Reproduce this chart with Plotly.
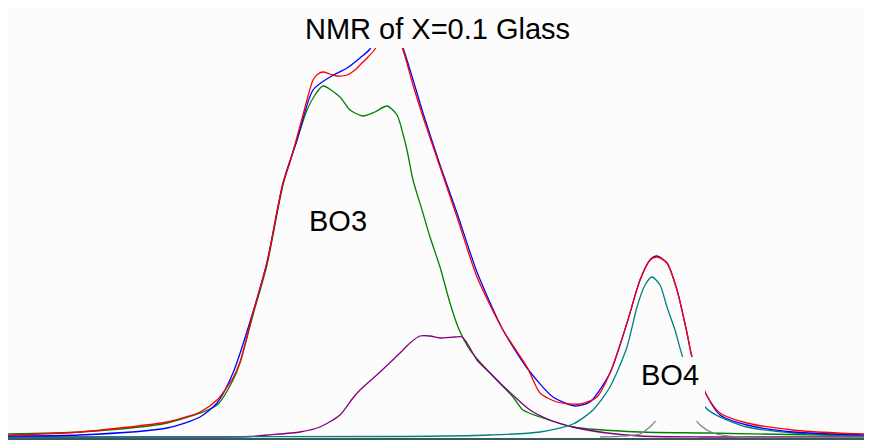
import plotly.graph_objects as go

# Channel positions (arbitrary shift units, left to right) and intensities for each curve
total_fit_x = [6, 40, 80, 120, 167, 200, 217, 233, 240, 253, 267, 283, 290, 297, 307, 313, 318, 323, 330, 337, 347, 355, 360, 368, 375, 388,
               403, 413, 423, 440, 457, 477, 503, 527, 540, 557, 580, 597, 610, 627, 640, 650, 657, 667, 677, 687, 692, 706, 720, 747, 793, 837, 870]
total_fit_y = [2, 3, 5, 9, 15, 25, 37, 59, 75, 124, 174, 254, 275, 300, 337, 357, 363, 365, 363, 361, 362, 367, 372, 380, 388, 422,
               387, 352, 320, 270, 220, 160, 107, 70, 44, 35, 33, 40, 64, 114, 157, 177, 180, 174, 147, 104, 80, 43, 24, 14, 7, 4, 3]

data_x = [6, 80, 167, 200, 217, 233, 253, 267, 283, 297, 313, 330, 347, 360, 370, 388,
          403, 423, 440, 457, 477, 503, 527, 553, 575, 590, 610, 627, 640, 650, 657, 667, 677, 687, 692, 706, 720, 747, 793, 870]
data_y = [1, 2, 9, 20, 34, 64, 125, 175, 254, 297, 347, 360, 369, 379, 388, 422,
          389, 324, 272, 224, 165, 107, 69, 40, 31, 35, 64, 114, 157, 177, 181, 174, 147, 104, 80, 43, 22, 12, 5, 2]

bo3_x = [6, 80, 167, 217, 233, 240, 253, 267, 283, 297, 307, 315, 323, 340, 350, 363, 375, 387, 397, 403, 407, 413, 422, 430,
         440, 450, 458, 470, 490, 513, 523, 540, 573, 640, 707, 870]
bo3_y = [3, 5, 14, 32, 57, 74, 122, 172, 252, 297, 327, 342, 351, 340, 327, 321, 325, 331, 322, 303, 287, 257, 227, 200,
         170, 134, 110, 87, 64, 40, 27, 20, 10, 5, 4, 1]

mixed_x = [6, 250, 267, 300, 320, 340, 353, 360, 380, 400, 410, 420, 430, 440, 455, 462, 467, 477, 490, 500, 515, 530, 550,
           573, 607, 640, 700, 870]
mixed_y = [0, 0.5, 2, 5, 10, 22, 39, 47, 65, 84, 94, 101, 101, 99, 100, 100, 94, 77, 64, 54, 40, 27, 17, 10, 4, 1, 0, 0]

bo4_x = [6, 400, 490, 540, 573, 593, 610, 627, 637, 645, 652, 660, 667, 675, 683, 706, 720, 747, 793, 870]
bo4_y = [0, 0.5, 2, 5, 13, 27, 50, 90, 130, 152, 160, 152, 130, 107, 79, 29, 20, 10, 4, 1]

minor_x = [600, 640, 652, 665, 676, 690, 700, 713, 740, 870]
minor_y = [0, 3, 12, 27, 32, 25, 12, 4, 0, 0]

title_text = "NMR of X=0.1 Glass"
labels = ["BO3", "BO4"]
label_x = [338, 670]
label_y = [216, 62]

BG = "#fcfcfc"
FONT = "Liberation Sans, Arial, sans-serif"

fig = go.Figure()
curves = [
    (bo3_x, bo3_y, "#008000"),
    (mixed_x, mixed_y, "#800080"),
    (bo4_x, bo4_y, "#008080"),
    (minor_x, minor_y, "#808080"),
    (data_x, data_y, "#0000ff"),
    (total_fit_x, total_fit_y, "#ff0000"),
]
for xs, ys, col in curves:
    fig.add_trace(go.Scatter(x=xs, y=ys, mode="lines",
                             line=dict(color=col, width=1.3, shape="spline", smoothing=0.7),
                             hoverinfo="skip", showlegend=False))

# box behind BO4 label (hides curves as in the original)
fig.add_shape(type="rect", xref="x", yref="y", x0=640, x1=705, y0=16, y1=80,
              fillcolor=BG, line=dict(width=0), layer="above")

for t, lx, ly in zip(labels, label_x, label_y):
    fig.add_annotation(x=lx, y=ly, xref="x", yref="y", text=t, showarrow=False,
                       font=dict(family=FONT, size=29, color="black"), xanchor="center", yanchor="middle")

fig.add_annotation(x=437, y=1.0487, xref="x", yref="paper", text=title_text, showarrow=False,
                   font=dict(family=FONT, size=29, color="black"), xanchor="center", yanchor="middle")

fig.update_layout(
    width=864, height=432,
    margin=dict(l=0, r=0, t=40, b=2),
    paper_bgcolor=BG, plot_bgcolor=BG,
    xaxis=dict(range=[8, 872], visible=True, showgrid=False, zeroline=False, showticklabels=False,
               ticks="", showline=True, linecolor="#3a5a5a", linewidth=2),
    yaxis=dict(range=[-1, 389], visible=False, showgrid=False, zeroline=False),
)
fig.write_html("out.html", post_script="document.documentElement.style.overflow='hidden';")
